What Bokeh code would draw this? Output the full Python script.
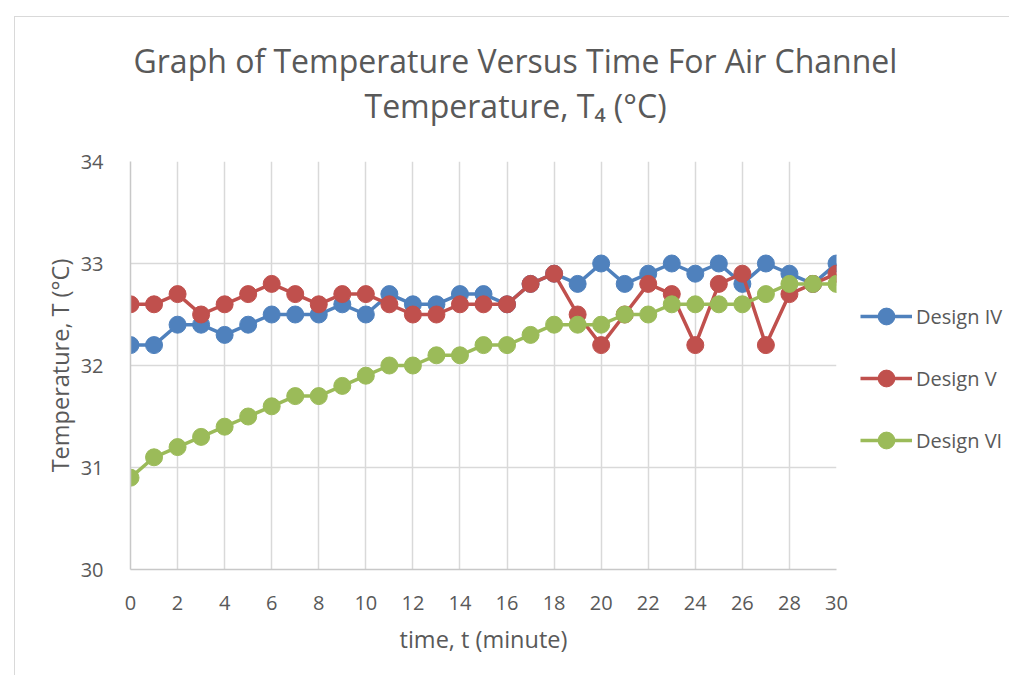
from bokeh.plotting import figure
from bokeh.models import Title, Legend, LegendItem, FixedTicker, LinearAxis
from bokeh.embed import file_html
from bokeh.resources import INLINE

time = list(range(0, 31))
design_iv = [32.2, 32.2, 32.4, 32.4, 32.3, 32.4, 32.5, 32.5, 32.5, 32.6, 32.5,
             32.7, 32.6, 32.6, 32.7, 32.7, 32.6, 32.8, 32.9, 32.8, 33.0,
             32.8, 32.9, 33.0, 32.9, 33.0, 32.8, 33.0, 32.9, 32.8, 33.0]
design_v = [32.6, 32.6, 32.7, 32.5, 32.6, 32.7, 32.8, 32.7, 32.6, 32.7, 32.7,
            32.6, 32.5, 32.5, 32.6, 32.6, 32.6, 32.8, 32.9, 32.5, 32.2,
            32.5, 32.8, 32.7, 32.2, 32.8, 32.9, 32.2, 32.7, 32.8, 32.9]
design_vi = [30.9, 31.1, 31.2, 31.3, 31.4, 31.5, 31.6, 31.7, 31.7, 31.8, 31.9,
             32.0, 32.0, 32.1, 32.1, 32.2, 32.2, 32.3, 32.4, 32.4, 32.4,
             32.5, 32.5, 32.6, 32.6, 32.6, 32.6, 32.7, 32.8, 32.8, 32.8]
series_names = ["Design IV", "Design V", "Design VI"]
series_colors = ["#4F81BD", "#C0504D", "#9BBB59"]
x_ticks = list(range(0, 31, 2))
y_ticks = [30, 31, 32, 33, 34]

FONT = "Open Sans"
TXT = "#595959"
GRID = "#D9D9D9"

p = figure(frame_width=706, frame_height=408, output_backend="svg", toolbar_location=None,
           x_range=(0, 30), y_range=(30, 34),
           min_border_left=115, min_border_right=170, min_border_top=144, min_border_bottom=106,
           styles={"margin-left": "14px", "margin-top": "16px",
                   "border-left": "1.5px solid #D9D9D9", "border-top": "1.5px solid #D9D9D9"})
p.outline_line_color = None
p.background_fill_color = "white"
p.border_fill_color = "white"

xax = p.below[0]
yax = p.left[0]
for ax in (xax, yax):
    ax.major_label_text_font = FONT
    ax.major_label_text_font_size = "20px"
    ax.major_label_text_color = TXT
    ax.axis_label_text_font = FONT
    ax.axis_label_text_font_size = "23.5px"
    ax.axis_label_text_font_style = "normal"
    ax.axis_label_text_color = TXT
    ax.major_tick_line_color = None
    ax.minor_tick_line_color = None
    ax.axis_line_color = "#C8C8C8"
    ax.axis_line_width = 1.5

xax.ticker = FixedTicker(ticks=x_ticks)
yax.ticker = FixedTicker(ticks=y_ticks)
xax.axis_label = "time, t (minute)"
yax.axis_label = "Temperature, T (\u00b0C)"
xax.major_label_standoff = 20
yax.major_label_standoff = 21
xax.axis_label_standoff = 10
yax.axis_label_standoff = 2

p.xgrid.ticker = FixedTicker(ticks=x_ticks)
p.ygrid.ticker = FixedTicker(ticks=y_ticks)
p.grid.grid_line_color = GRID
p.grid.grid_line_width = 1.5

# blank spacer axis directly above the plot area (white tick on white, no label text)
spacer = LinearAxis(ticker=FixedTicker(ticks=[15]), major_tick_out=35, major_tick_in=0,
                    major_label_standoff=0, major_label_overrides={15: ""},
                    major_label_text_font_size="1px", axis_line_color=None,
                    major_tick_line_color="white", minor_tick_line_color=None)
p.add_layout(spacer, "above")

# titles (second line added first: it sits nearest the plot)
t2 = Title(text="Temperature, T\u2084 (\u00b0C)", align="left", offset=234,
           text_font=FONT, text_font_size="32px", text_font_style="normal", text_color=TXT,
           standoff=0)
t1 = Title(text="Graph of Temperature Versus Time For Air Channel", align="left", offset=3,
           text_font=FONT, text_font_size="32px", text_font_style="normal", text_color=TXT,
           standoff=0)
p.add_layout(t2, "above")
p.add_layout(t1, "above")

items = []
for name, ys, col in zip(series_names, [design_iv, design_v, design_vi], series_colors):
    ln = p.line(time, ys, line_color=col, line_width=3.5)
    sc = p.scatter(time, ys, marker="circle", size=17, fill_color=col, line_color=col)
    items.append(LegendItem(label=name, renderers=[ln, sc]))

legend = Legend(items=items, location=(24, 108), orientation="vertical",
                glyph_width=52, glyph_height=42, label_height=42, spacing=20,
                label_standoff=4, padding=0, margin=0,
                label_text_font=FONT, label_text_font_size="20px", label_text_color=TXT,
                border_line_color=None, background_fill_alpha=0)
p.add_layout(legend, "right")

open("out.html", "w").write(file_html(p, INLINE))
